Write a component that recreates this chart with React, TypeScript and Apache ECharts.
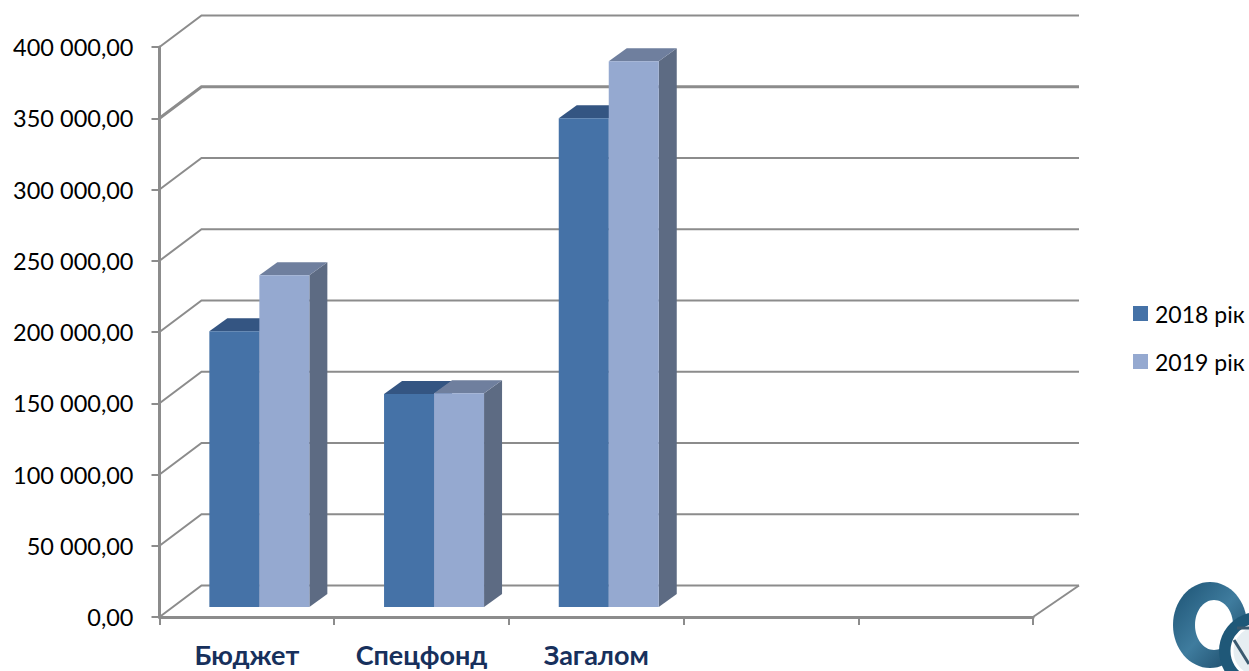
import React, { useEffect, useRef } from "react";
import * as echarts from "echarts";

const categories = ["Бюджет", "Спецфонд", "Загалом", "", ""];
const yTicks = [0, 50000, 100000, 150000, 200000, 250000, 300000, 350000, 400000];
const seriesNames = ["2018 рік", "2019 рік"];
const values2018 = [193500, 149400, 342900];
const values2019 = [232800, 150000, 382900];

const fontFamily = "Lato, Carlito, sans-serif";
const gridGray = "#8c8c8c";
const FLOOR_LIFT = 10;
const BAR_SHIFT = 12.5;
const DEPTH_X = 18;
const DEPTH_Y = 13;

function fmt(v: number) {
  const whole = String(Math.round(v)).replace(/\B(?=(\d{3})+$)/g, " ");
  return whole + ",00";
}

function bar3d(offsetSign: number, front: string, top: string, side: string) {
  return (params: any, api: any) => {
    const idx = api.value(0);
    const val = api.value(1);
    const c = api.coord([idx, val]);
    const w = 50;
    const x0 = c[0] + BAR_SHIFT + (offsetSign < 0 ? -w : 0);
    const x1 = x0 + w;
    const yTop = c[1] - FLOOR_LIFT;
    const yBase = api.coord([idx, 0])[1] - FLOOR_LIFT;
    return {
      type: "group",
      children: [
        {
          type: "polygon",
          shape: { points: [[x1, yTop], [x1 + DEPTH_X, yTop - DEPTH_Y], [x1 + DEPTH_X, yBase - DEPTH_Y], [x1, yBase]] },
          style: { fill: side },
        },
        {
          type: "polygon",
          shape: { points: [[x0, yTop], [x0 + DEPTH_X, yTop - DEPTH_Y], [x1 + DEPTH_X, yTop - DEPTH_Y], [x1, yTop]] },
          style: { fill: top },
        },
        { type: "rect", shape: { x: x0, y: yTop, width: w, height: yBase - yTop }, style: { fill: front } },
      ],
    };
  };
}

function wall(params: any, api: any) {
  const v = api.value(0);
  const p = api.coord([0, v]);
  const size = api.size([1, 0])[0];
  const xl = p[0] - size / 2;
  const y = p[1];
  const xr = xl + size * 5;
  const dy = 31.5;
  const children: any[] = [
    {
      type: "polyline",
      shape: { points: [[xl, y], [xl + 42, y - dy], [xr + 46, y - dy]] },
      style: { stroke: gridGray, lineWidth: v === 350000 ? 3 : 2, fill: "none" },
    },
  ];
  if (v === 0) {
    children.push({
      type: "line",
      shape: { x1: xr + 46, y1: y - dy, x2: xr, y2: y },
      style: { stroke: gridGray, lineWidth: 2 },
    });
  }
  return { type: "group", children };
}

const option: any = {
  animation: false,
  backgroundColor: "#ffffff",
  textStyle: { fontFamily },
  grid: { left: 159.5, right: 216, top: 47, bottom: 54, containLabel: false, outerBoundsMode: "none" },
  legend: {
    data: seriesNames.map((name) => ({ name, icon: "rect" })),
    orient: "vertical",
    left: 1128,
    top: 297,
    itemWidth: 15,
    itemHeight: 15,
    itemGap: 25,
    textStyle: { fontFamily, fontSize: 23, color: "#000000", padding: [0, 0, 0, 2] },
  },
  xAxis: {
    type: "category",
    data: categories,
    boundaryGap: true,
    axisLine: { show: true, lineStyle: { color: gridGray, width: 3 } },
    axisTick: { show: true, length: 8, lineStyle: { color: gridGray, width: 2 } },
    axisLabel: {
      interval: 0,
      fontFamily,
      fontSize: 27,
      lineHeight: 27,
      fontWeight: "bold",
      color: "#17305c",
      margin: 24,
    },
    splitLine: { show: false },
  },
  yAxis: {
    type: "value",
    min: 0,
    max: 400000,
    interval: 50000,
    axisLine: { show: true, lineStyle: { color: gridGray, width: 3 } },
    axisTick: { show: true, length: 8, lineStyle: { color: gridGray, width: 2 } },
    axisLabel: { formatter: fmt, fontFamily, fontSize: 23.5, color: "#000000", margin: 26, padding: [3, 0, 0, 0] },
    splitLine: { show: false },
  },
  series: [
    {
      type: "custom",
      coordinateSystem: "cartesian2d",
      data: yTicks.map((t) => [t]),
      encode: { y: 0 },
      renderItem: wall,
      clip: false,
      silent: true,
      z: 1,
    },
    {
      name: seriesNames[0],
      type: "custom",
      coordinateSystem: "cartesian2d",
      data: values2018.map((v, i) => [i, v]),
      encode: { x: 0, y: 1 },
      itemStyle: { color: "#4572a7" },
      renderItem: bar3d(-1, "#4572a7", "#345582", "#345582"),
      clip: false,
      z: 3,
    },
    {
      name: seriesNames[1],
      type: "custom",
      coordinateSystem: "cartesian2d",
      data: values2019.map((v, i) => [i, v]),
      encode: { x: 0, y: 1 },
      itemStyle: { color: "#95a9d0" },
      renderItem: bar3d(1, "#95a9d0", "#6f7f9e", "#5d6b83"),
      clip: false,
      z: 4,
    },
  ],
  graphic: [
    {
      type: "group",
      silent: true,
      children: [
        {
          type: "ellipse",
          shape: { cx: 1210, cy: 625, rx: 37, ry: 43 },
          style: {
            fill: new echarts.graphic.LinearGradient(0, 0, 1, 1, [
              { offset: 0, color: "#1c5273" },
              { offset: 0.5, color: "#3f7c9e" },
              { offset: 1, color: "#16425f" },
            ]),
          },
        },
        { type: "ellipse", shape: { cx: 1214, cy: 625, rx: 19, ry: 25 }, style: { fill: "#ffffff" } },
        { type: "circle", shape: { cx: 1258, cy: 651, r: 39 }, style: { fill: "#1f5878" } },
        { type: "circle", shape: { cx: 1258, cy: 651, r: 26 }, style: { fill: "#e6eef2", stroke: "#ffffff", lineWidth: 3 } },
        { type: "line", shape: { x1: 1237, y1: 628, x2: 1249, y2: 628 }, style: { stroke: "#3a5a70", lineWidth: 3 } },
        { type: "line", shape: { x1: 1234, y1: 640, x2: 1249, y2: 664 }, style: { stroke: "#3a5a70", lineWidth: 3 } },
      ],
    },
  ],
};

export default function App() {
  const ref = useRef<HTMLDivElement>(null);
  useEffect(() => {
    document.body.style.margin = "0";
    const chart = echarts.init(ref.current!, undefined, { renderer: "svg" });
    chart.setOption(option);
    return () => chart.dispose();
  }, []);
  return <div ref={ref} style={{ width: 1249, height: 671, overflow: "hidden" }} />;
}
